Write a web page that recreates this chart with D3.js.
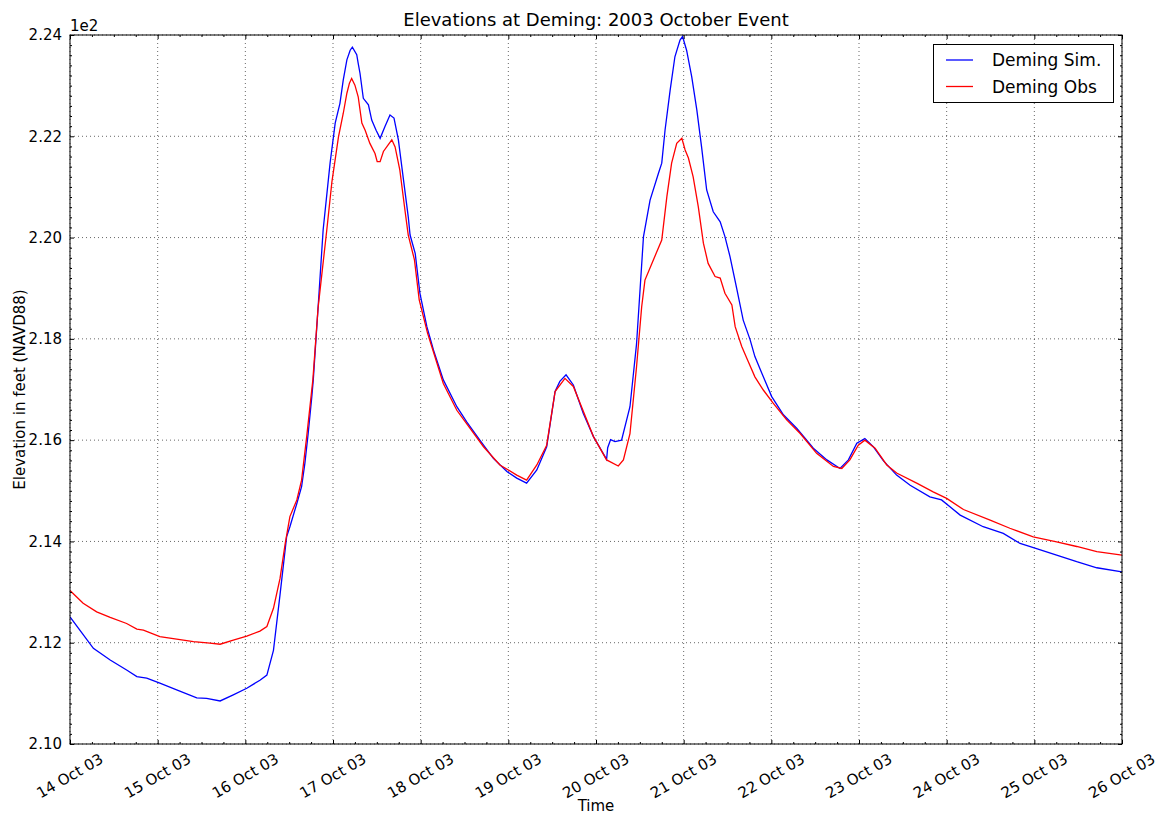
<!DOCTYPE html>
<html><head><meta charset="utf-8">
<script src="https://cdn.jsdelivr.net/npm/d3@7"></script>
<style>body{margin:0;background:#fff} text{font-family:"DejaVu Sans",sans-serif;fill:#000}</style>
</head><body><svg id="c" width="1157" height="814"></svg>
<script>
// ---- data (hours since 14 Oct 2003 00:00, elevation in feet) ----
const simHours=[0,6.4,11.0,15.5,18.3,21.0,24.6,29.2,34.7,37.4,41.1,44.7,48.4,52.0,53.9,55.7,57.5,59.3,60.2,62.1,63.4,64.3,65.2,66.2,66.6,67.9,69.3,71.2,72.6,73.9,74.8,75.8,76.7,77.3,78.5,78.9,79.4,80.3,81.7,82.6,83.8,84.9,86.2,87.6,88.7,89.9,91.3,92.6,93.1,94.5,95.8,97.7,99.5,102.2,105.9,108.6,112.2,115.9,119.6,122.3,125.0,127.8,130.5,132.8,134.1,135.8,137.8,140.5,143.3,146.9,147.2,148.0,149.2,151.0,153.3,155.1,157.0,158.8,161.1,162.0,162.9,164.3,165.6,167.0,167.7,168.8,170.2,171.6,172.9,174.3,176.1,178.0,179.3,180.7,182.5,184.3,186.2,187.5,189.4,192.1,195.3,199.0,203.5,207.2,210.8,213.1,215.4,217.6,219.9,222.7,226.3,230.0,235.4,238.6,243.7,250.0,255.5,260.1,264.6,270.1,275.6,281.1,288.0];
const simValues=[212.51,211.89,211.66,211.46,211.33,211.30,211.20,211.07,210.91,210.90,210.85,210.97,211.10,211.26,211.36,211.85,212.95,214.09,214.29,214.75,215.08,215.54,216.13,216.86,217.19,218.60,220.15,221.47,222.26,222.65,223.11,223.51,223.70,223.76,223.61,223.44,223.24,222.75,222.62,222.32,222.12,221.96,222.19,222.42,222.36,221.93,221.14,220.41,220.05,219.69,218.90,218.24,217.78,217.19,216.66,216.36,216.00,215.64,215.38,215.25,215.15,215.41,215.87,216.96,217.16,217.29,217.09,216.53,216.07,215.62,215.85,216.01,215.97,216.00,216.66,217.90,220.02,220.74,221.27,221.47,222.12,222.91,223.57,223.90,223.97,223.70,223.18,222.52,221.79,220.94,220.51,220.31,220.02,219.62,219.00,218.37,217.98,217.65,217.32,216.86,216.50,216.23,215.84,215.61,215.44,215.61,215.94,216.03,215.87,215.59,215.31,215.11,214.88,214.82,214.52,214.29,214.16,213.96,213.86,213.73,213.60,213.48,213.40];
const obsHours=[0,3.6,7.3,11.0,15.5,18.3,20.1,24.6,29.2,33.8,38.3,41.1,44.7,48.4,52.0,53.9,55.7,57.5,58.9,60.2,62.1,63.4,64.8,66.5,67.9,70.3,71.7,73.5,74.8,75.8,76.5,77.1,78.0,78.9,79.9,80.8,82.1,83.5,84.1,84.9,85.8,87.1,88.1,89.0,90.3,91.7,92.6,94.3,95.6,97.9,102.2,105.9,113.2,117.7,122.3,125.0,127.8,130.5,132.8,135.5,137.8,143.3,146.9,150.1,151.5,153.3,155.1,156.5,157.4,159.3,162.0,163.4,164.7,166.1,167.5,168.4,169.3,170.6,172.0,173.4,174.7,176.6,178.0,179.3,181.2,182.1,183.9,185.7,187.5,189.8,192.5,196.2,199.9,204.4,209.0,211.3,213.5,215.8,217.6,220.4,223.6,226.3,231.8,236.3,240.0,244.6,251.9,257.3,263.7,270.1,275.6,281.1,288.0];
const obsValues=[213.03,212.78,212.61,212.50,212.38,212.27,212.25,212.12,212.07,212.02,211.99,211.97,212.05,212.13,212.23,212.32,212.68,213.27,213.95,214.49,214.82,215.21,216.07,217.20,218.60,220.15,221.10,221.99,222.45,222.85,223.05,223.14,223.01,222.78,222.26,222.12,221.86,221.66,221.50,221.50,221.70,221.83,221.93,221.79,221.33,220.54,220.05,219.56,218.77,218.11,217.12,216.59,215.87,215.51,215.31,215.21,215.51,215.90,216.96,217.22,217.06,216.07,215.61,215.49,215.61,216.13,217.45,218.63,219.16,219.49,219.95,220.81,221.47,221.86,221.96,221.73,221.57,221.20,220.61,219.89,219.49,219.23,219.20,218.90,218.67,218.24,217.85,217.55,217.25,216.99,216.73,216.40,216.13,215.74,215.48,215.44,215.61,215.90,216.00,215.84,215.51,215.35,215.15,214.98,214.85,214.63,214.42,214.26,214.09,213.99,213.90,213.80,213.73];
const yTicks=[210,212,214,216,218,220,222,224];
const yTickLabels=["2.10","2.12","2.14","2.16","2.18","2.20","2.22","2.24"];
const xDays=[14,15,16,17,18,19,20,21,22,23,24,25,26];
const seriesNames=["Deming Sim.","Deming Obs"];
const seriesColors=["#0000ff","#ff0000"];

// ---- layout ----
const L=70,R=1122,T=35,B=744;
const svg=d3.select("#c");
const t0=Date.UTC(2003,9,14);
const toDate=h=>new Date(t0+h*3600e3);
const x=d3.scaleUtc().domain([toDate(0),toDate(288)]).range([L,R]);
const y=d3.scaleLinear().domain([210,224]).range([B,T]);
const dayDates=xDays.map(d=>new Date(Date.UTC(2003,9,d)));
const minorX=d3.range(0,289,6).map(toDate).filter(d=>d.getUTCHours()!==0);
const minorY=d3.range(210,224.001,0.2).filter(v=>Math.abs(v/2-Math.round(v/2))>1e-6);

// grid
const gGrid=svg.append("g");
gGrid.selectAll(".gx").data(dayDates).join("line")
 .attr("x1",d=>x(d)).attr("x2",d=>x(d)).attr("y1",T).attr("y2",B)
 .attr("stroke","#000").attr("stroke-width",0.6).attr("stroke-dasharray","1,3");
gGrid.selectAll(".gy").data(yTicks).join("line")
 .attr("x1",L).attr("x2",R).attr("y1",d=>y(d)).attr("y2",d=>y(d))
 .attr("stroke","#000").attr("stroke-width",0.6).attr("stroke-dasharray","1,3");

// lines
const lineGen=d3.line().x(d=>x(toDate(d[0]))).y(d=>y(d[1]));
const simData=simHours.map((h,i)=>[h,simValues[i]]);
const obsData=obsHours.map((h,i)=>[h,obsValues[i]]);
svg.append("clipPath").attr("id","cp").append("rect").attr("x",L).attr("y",T).attr("width",R-L).attr("height",B-T);
svg.append("path").datum(simData).attr("d",lineGen).attr("fill","none").attr("stroke",seriesColors[0]).attr("stroke-width",1.3).attr("clip-path","url(#cp)");
svg.append("path").datum(obsData).attr("d",lineGen).attr("fill","none").attr("stroke",seriesColors[1]).attr("stroke-width",1.3).attr("clip-path","url(#cp)");

// axes (ticks inward)
const axG=svg.append("g");
axG.append("g").attr("transform",`translate(0,${B})`).call(d3.axisBottom(x).tickValues(dayDates).tickSize(-4).tickFormat(""));
axG.append("g").attr("transform",`translate(0,${B})`).call(d3.axisBottom(x).tickValues(minorX).tickSize(-2).tickFormat(""));
axG.append("g").attr("transform",`translate(0,${T})`).call(d3.axisTop(x).tickValues(dayDates).tickSize(-4).tickFormat(""));
axG.append("g").attr("transform",`translate(0,${T})`).call(d3.axisTop(x).tickValues(minorX).tickSize(-2).tickFormat(""));
const axLeft=axG.append("g").attr("transform",`translate(${L},0)`).call(d3.axisLeft(y).tickValues(yTicks).tickSize(-4).tickPadding(8).tickFormat((d,i)=>yTickLabels[i]));
axG.append("g").attr("transform",`translate(${L},0)`).call(d3.axisLeft(y).tickValues(minorY).tickSize(-2).tickFormat(""));
axG.append("g").attr("transform",`translate(${R},0)`).call(d3.axisRight(y).tickValues(yTicks).tickSize(-4).tickFormat(""));
axG.append("g").attr("transform",`translate(${R},0)`).call(d3.axisRight(y).tickValues(minorY).tickSize(-2).tickFormat(""));
axG.selectAll(".domain").remove();
axG.selectAll("line").attr("stroke","#000").attr("stroke-width",1);
axLeft.selectAll("text").attr("font-size",15).attr("font-family","DejaVu Sans").attr("fill","#000");

// frame
svg.append("rect").attr("x",L).attr("y",T).attr("width",R-L).attr("height",B-T).attr("fill","none").attr("stroke","#000").attr("stroke-width",1);

// x tick labels rotated
const fmt=d3.utcFormat("%d %b %y");
svg.selectAll(".xl").data(dayDates).join("text")
 .attr("transform",d=>`translate(${x(d)},776) rotate(-30)`)
 .attr("text-anchor","middle").attr("dominant-baseline","central")
 .attr("font-size",15).text(d=>fmt(d));

// texts
svg.append("text").attr("x",L).attr("y",31).attr("font-size",15).text("1e2");
svg.append("text").attr("x",(L+R)/2).attr("y",26).attr("text-anchor","middle").attr("font-size",18).text("Elevations at Deming: 2003 October Event");
svg.append("text").attr("x",(L+R)/2).attr("y",811).attr("text-anchor","middle").attr("font-size",15).text("Time");
svg.append("text").attr("transform",`translate(25,${(T+B)/2}) rotate(-90)`).attr("text-anchor","middle").attr("font-size",15).text("Elevation in feet (NAVD88)");

// legend
const lg=svg.append("g");
lg.append("rect").attr("x",933.5).attr("y",44.5).attr("width",180).attr("height",58).attr("fill","#fff").attr("stroke","#000").attr("stroke-width",1);
seriesNames.forEach((n,i)=>{
  const yy=60+i*26.5;
  lg.append("line").attr("x1",946).attr("x2",973).attr("y1",yy).attr("y2",yy).attr("stroke",seriesColors[i]).attr("stroke-width",1.3);
  lg.append("text").attr("x",992).attr("y",yy).attr("dominant-baseline","central").attr("font-size",17).text(n);
});
</script></body></html>
